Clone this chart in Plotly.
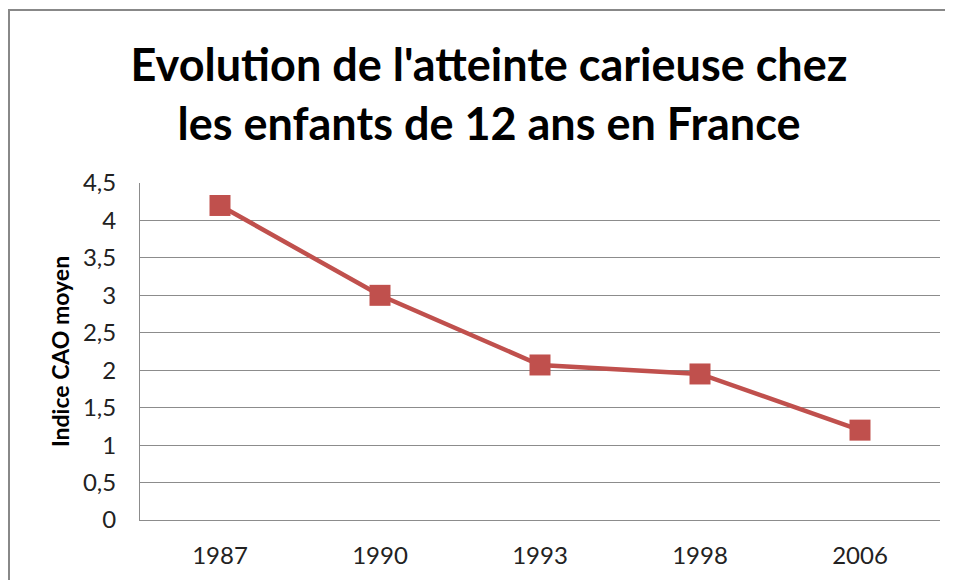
import plotly.graph_objects as go

annees = ["1987", "1990", "1993", "1998", "2006"]
cao_moyen = [4.2, 3.0, 2.07, 1.95, 1.2]
ticks_y = [0, 0.5, 1, 1.5, 2, 2.5, 3, 3.5, 4, 4.5]
labels_y = ["0", "0,5", "1", "1,5", "2", "2,5", "3", "3,5", "4", "4,5"]

rouge = "#C0504D"
gris = "#8C8C8C"

fig = go.Figure()
fig.add_trace(go.Scatter(
    x=annees, y=cao_moyen,
    mode="lines+markers",
    line=dict(color=rouge, width=4.5),
    marker=dict(symbol="square", size=21, color=rouge),
    showlegend=False,
))

# la page ajoute 8 px de marge autour de la figure
fig.update_layout(
    width=953, height=580,
    margin=dict(l=132, r=21, t=175, b=68),
    paper_bgcolor="white", plot_bgcolor="white",
    font=dict(family="Lato", color="#222222"),
    title=dict(
        text="<b>Evolution de l'atteinte carieuse chez<br>les enfants de 12 ans en France</b>",
        x=481 / 953, xanchor="center",
        y=1 - 73 / 580, yanchor="middle",
        font=dict(family="Lato", size=45, color="black"),
    ),
    xaxis=dict(
        type="category", range=[-0.5, 4.5],
        showgrid=False, showline=True, linecolor=gris, linewidth=1,
        ticks="", tickfont=dict(size=24, color="#222222"),
        ticklabelstandoff=14,
    ),
    yaxis=dict(
        range=[0, 4.5], tickvals=ticks_y, ticktext=labels_y,
        showgrid=True, gridcolor=gris, gridwidth=1,
        showline=True, linecolor=gris, linewidth=1,
        zeroline=False, ticks="",
        tickfont=dict(size=24, color="#222222"),
        ticklabelstandoff=18,
        title=dict(text="<b>Indice CAO moyen</b>", font=dict(size=23, color="black"), standoff=6),
    ),
)

# cadre extérieur du graphique
fig.add_shape(type="rect", xref="paper", yref="paper",
              x0=-131 / 800, x1=1.2, y0=-0.3, y1=1 + 173 / 337,
              line=dict(color="#888888", width=2))

fig.write_html("out.html")
